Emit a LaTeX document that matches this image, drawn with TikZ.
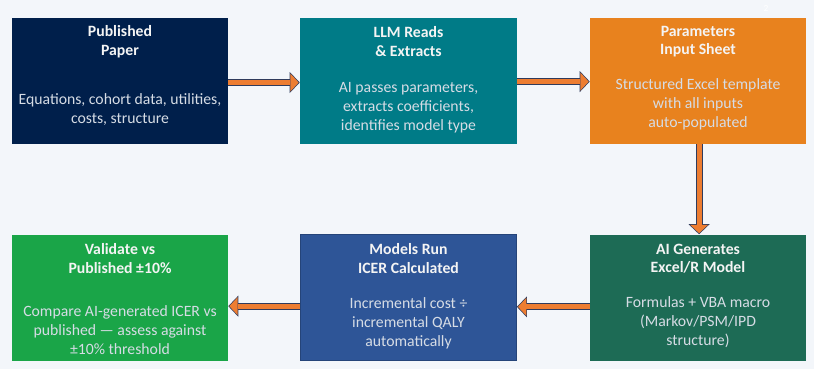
\documentclass[tikz,border=0pt]{standalone}
\usepackage{fontspec}
\setmainfont{Carlito}
\usetikzlibrary{arrows.meta,calc}

\definecolor{pagebg}{HTML}{F3F6FA}
\definecolor{navybox}{HTML}{001F4B}
\definecolor{tealbox}{HTML}{007B87}
\definecolor{orangebox}{HTML}{E8821E}
\definecolor{pinebox}{HTML}{1D6B55}
\definecolor{bluebox}{HTML}{2E5597}
\definecolor{greenbox}{HTML}{1AA548}
\definecolor{titlewhite}{HTML}{F4F4F4}
\definecolor{bodygrey}{HTML}{D6DCE5}
\definecolor{arroworange}{HTML}{ED7D31}
\definecolor{arrowedge}{HTML}{2F3B5C}

\tikzset{
  stage/.style={rectangle, minimum width=162pt, minimum height=94.5pt, inner sep=0pt},
  stagetitle/.style={font=\fontsize{11.8}{13.9}\selectfont\bfseries, text=titlewhite, align=center},
  stagebody/.style={text=bodygrey, align=center},
  flowback/.style={line width=5.25pt, draw=arrowedge,
    -{Triangle[length=7.5pt, width=15.75pt, line width=0pt]}},
  flowfront/.style={line width=3.75pt, draw=arroworange, shorten >=0.8pt,
    -{Triangle[length=6.3pt, width=13.5pt, line width=0pt]}},
}

\begin{document}
\begin{tikzpicture}[x=0.75pt, y=0.75pt, font=\fontsize{11.8}{14.25}\selectfont]
  \fill[pagebg] (0,0) rectangle (814,369);
  \useasboundingbox (0,0) rectangle (814,369);

  % top row
  \node[stage, fill=navybox] (paper) at (120,288.5) {};
  \node[stage, fill=tealbox, minimum width=162.75pt] (reads) at (408.5,288.5) {};
  \node[stage, fill=orangebox] (sheet) at (698,288.5) {};

  % bottom row
  \node[stage, fill=pinebox] (generate) at (698,71.5) {};
  \node[stage, fill=bluebox, draw=bluebox!80!black, line width=0.6pt] (modelrun) at (408.5,71.5) {};
  \node[stage, fill=greenbox] (validate) at (120,71.5) {};

  % titles
  \node[stagetitle] (paper-t) at ($(paper.north)+(0,-24.5)$) {Published\\Paper};
  \node[stagetitle] (reads-t) at ($(reads.north)+(0,-24.5)$) {LLM Reads\\\& Extracts};
  \node[stagetitle] (sheet-t) at ($(sheet.north)+(0,-24.5)$) {Parameters\\Input Sheet};
  \node[stagetitle] (generate-t) at ($(generate.north)+(0,-24.5)$) {AI Generates\\Excel/R Model};
  \node[stagetitle] (modelrun-t) at ($(modelrun.north)+(0,-24.5)$) {Models Run\\ICER Calculated};
  \node[stagetitle] (validate-t) at ($(validate.north)+(0,-24.5)$) {Validate vs\\Published ±10\%};

  % body texts
  \node[stagebody] (paper-b) at ($(paper.center)+(0,-29.5)$)
    {Equations, cohort data, utilities,\\costs, structure};
  \node[stagebody] (reads-b) at ($(reads.center)+(0,-27)$)
    {AI passes parameters,\\extracts coefficients,\\identifies model type};
  \node[stagebody] (sheet-b) at ($(sheet.center)+(0,-24)$)
    {Structured Excel template\\with all inputs\\auto-populated};
  \node[stagebody] (generate-b) at ($(generate.center)+(0,-25)$)
    {Formulas + VBA macro\\(Markov/PSM/IPD\\structure)};
  \node[stagebody] (modelrun-b) at ($(modelrun.center)+(0,-26)$)
    {Incremental cost ÷\\incremental QALY\\automatically};
  \node[stagebody] (validate-b) at ($(validate.center)+(0,-33)$)
    {Compare AI-generated ICER vs\\published — assess against\\±10\% threshold};

  % page number
  \node[text=white, font=\fontsize{7}{8}\selectfont] (pagenum) at (766,361) {2};

  % arrows
  \draw[flowback] ([yshift=-1.5pt]paper.east) -- ([yshift=-1.5pt]reads.west);
  \draw[flowfront] ([yshift=-1.5pt]paper.east) -- ([yshift=-1.5pt]reads.west);
  \draw[flowback] ([yshift=-0.8pt]reads.east) -- ([yshift=-0.8pt]sheet.west);
  \draw[flowfront] ([yshift=-0.8pt]reads.east) -- ([yshift=-0.8pt]sheet.west);
  \draw[flowback] ([xshift=0.8pt]sheet.south) -- ([xshift=0.8pt]generate.north);
  \draw[flowfront] ([xshift=0.8pt]sheet.south) -- ([xshift=0.8pt]generate.north);
  \draw[flowback] ([yshift=-7pt]generate.west) -- ([yshift=-7pt]modelrun.east);
  \draw[flowfront] ([yshift=-7pt]generate.west) -- ([yshift=-7pt]modelrun.east);
  \draw[flowback] ([yshift=-6.5pt]modelrun.west) -- ([yshift=-6.5pt]validate.east);
  \draw[flowfront] ([yshift=-6.5pt]modelrun.west) -- ([yshift=-6.5pt]validate.east);
\end{tikzpicture}
\end{document}
